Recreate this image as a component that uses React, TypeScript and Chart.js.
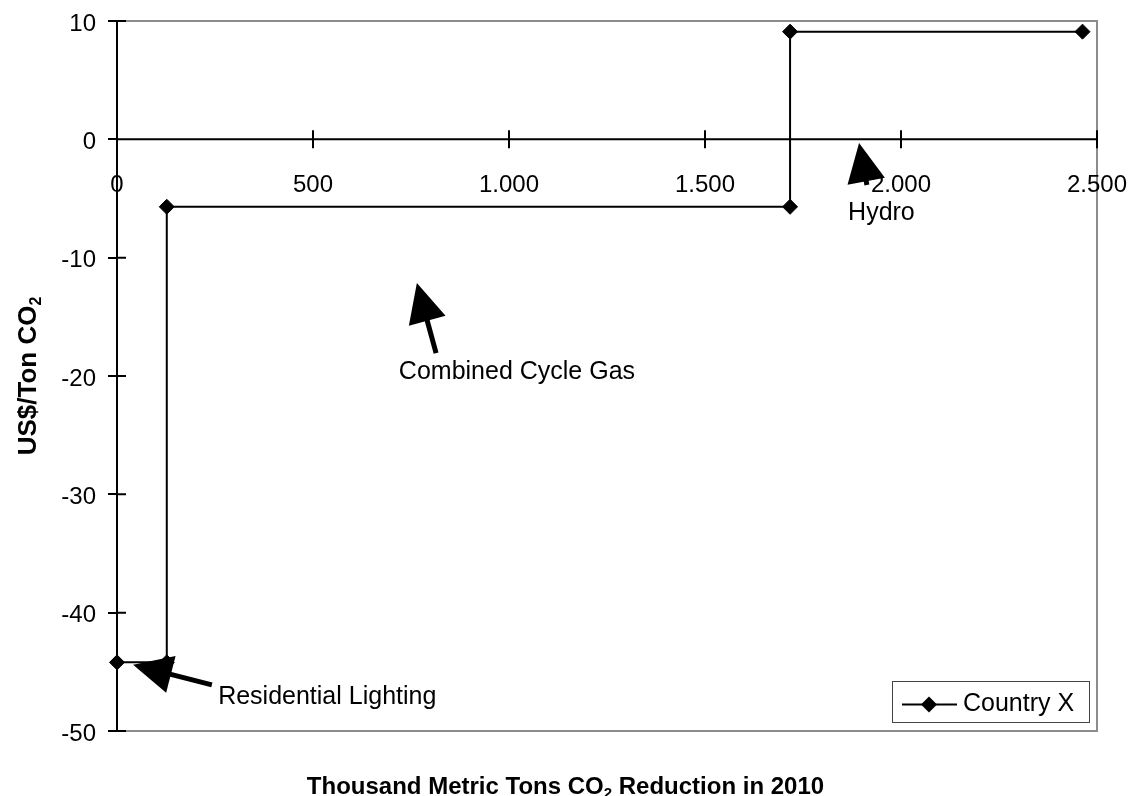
import React, { useEffect, useRef } from 'react';
import { Chart, registerables } from 'chart.js';
Chart.register(...registerables);

const seriesLabel = 'Country X';
const reductionX = [0, 127, 127, 1717, 1717, 2463];
const costY = [-44.2, -44.2, -5.7, -5.7, 9.1, 9.1];
const xTicks = [0, 500, 1000, 1500, 2000, 2500];
const yTicks = [10, 0, -10, -20, -30, -40, -50];

const annotationTexts = ['Residential Lighting', 'Combined Cycle Gas', 'Hydro'];
const annotationTextAt = [[258, -47.15], [719, -19.67], [1865, -6.23]];
const arrowTips = [[41, -44.4], [765, -12.15], [1893, -0.31]];
const arrowTails = [[242, -46.1], [814, -18.06], [1913, -3.86]];

const FONT = '"Liberation Sans", Arial, Helvetica, sans-serif';

const fmt = (n: number) => String(n).replace(/\B(?=(\d{3})+(?!\d))/g, '.');

function drawRich(ctx: CanvasRenderingContext2D, parts: [string, boolean][], cx: number, cy: number, size: number, bold: boolean) {
  const main = `${bold ? 'bold ' : ''}${size}px ${FONT}`;
  const sub = `${bold ? 'bold ' : ''}${Math.round(size * 0.62)}px ${FONT}`;
  let total = 0;
  const widths = parts.map(([t, s]) => {
    ctx.font = s ? sub : main;
    const w = ctx.measureText(t).width;
    total += w;
    return w;
  });
  let x = cx - total / 2;
  ctx.textAlign = 'left';
  ctx.textBaseline = 'alphabetic';
  parts.forEach(([t, s], i) => {
    ctx.font = s ? sub : main;
    ctx.fillText(t, x, s ? cy + size * 0.18 : cy);
    x += widths[i];
  });
}

function drawArrow(ctx: CanvasRenderingContext2D, tx: number, ty: number, sx: number, sy: number) {
  const dx = sx - tx, dy = sy - ty;
  const len = Math.hypot(dx, dy) || 1;
  const ux = dx / len, uy = dy / len;
  const L = 39, W = 19;
  const bx = tx + ux * L, by = ty + uy * L;
  const nx = -uy, ny = ux;
  ctx.beginPath();
  ctx.moveTo(tx, ty);
  ctx.lineTo(bx + nx * W, by + ny * W);
  ctx.lineTo(bx - nx * W, by - ny * W);
  ctx.closePath();
  ctx.fill();
  if (len > L) {
    ctx.beginPath();
    ctx.lineWidth = 5;
    ctx.lineCap = 'butt';
    ctx.moveTo(bx - ux * 2, by - uy * 2);
    ctx.lineTo(sx, sy);
    ctx.stroke();
  }
}

const customPlugin = {
  id: 'customDecor',
  beforeDatasetsDraw(chart: any) {
    const { ctx, chartArea: a, scales } = chart;
    const x = scales.x, y = scales.y;
    ctx.save();
    ctx.strokeStyle = '#8c8c8c';
    ctx.lineWidth = 2;
    ctx.beginPath();
    ctx.moveTo(a.left, a.top);
    ctx.lineTo(a.right, a.top);
    ctx.lineTo(a.right, a.bottom);
    ctx.lineTo(a.left + 9, a.bottom);
    ctx.stroke();

    const y0 = y.getPixelForValue(0);
    ctx.strokeStyle = '#000';
    ctx.beginPath();
    ctx.moveTo(a.left, y0);
    ctx.lineTo(a.right, y0);
    xTicks.forEach((v) => {
      const px = x.getPixelForValue(v);
      ctx.moveTo(px, y0 - 9);
      ctx.lineTo(px, y0 + 9);
    });
    yTicks.forEach((v) => {
      const py = y.getPixelForValue(v);
      ctx.moveTo(a.left, py);
      ctx.lineTo(a.left + 9, py);
    });
    ctx.stroke();
    ctx.restore();
  },
  afterDraw(chart: any) {
    const { ctx, chartArea: a, scales, width } = chart;
    const x = scales.x, y = scales.y;
    ctx.save();
    ctx.fillStyle = '#000';
    ctx.strokeStyle = '#000';
    const y0 = y.getPixelForValue(0);

    // x tick labels
    ctx.font = `24px ${FONT}`;
    ctx.textAlign = 'center';
    ctx.textBaseline = 'middle';
    xTicks.forEach((v) => {
      ctx.fillText(fmt(v), x.getPixelForValue(v), y0 + 46);
    });

    // annotations
    ctx.font = `25px ${FONT}`;
    ctx.textAlign = 'left';
    ctx.textBaseline = 'middle';
    annotationTexts.forEach((t, i) => {
      const [vx, vy] = annotationTextAt[i];
      ctx.fillText(t, x.getPixelForValue(vx), y.getPixelForValue(vy));
    });
    arrowTips.forEach((tip, i) => {
      const tail = arrowTails[i];
      drawArrow(
        ctx,
        x.getPixelForValue(tip[0]),
        y.getPixelForValue(tip[1]),
        x.getPixelForValue(tail[0]),
        y.getPixelForValue(tail[1])
      );
    });

    // legend
    const lw = 197, lh = 41;
    const lx = a.right - 205, ly = a.bottom - 50;
    ctx.fillStyle = '#fff';
    ctx.fillRect(lx, ly, lw, lh);
    ctx.strokeStyle = '#444';
    ctx.lineWidth = 1;
    ctx.strokeRect(lx + 0.5, ly + 0.5, lw, lh);
    const cy = ly + lh / 2 + 3;
    ctx.strokeStyle = '#000';
    ctx.lineWidth = 2;
    ctx.beginPath();
    ctx.moveTo(lx + 10, cy);
    ctx.lineTo(lx + 65, cy);
    ctx.stroke();
    ctx.fillStyle = '#000';
    ctx.beginPath();
    const dx = lx + 37;
    ctx.moveTo(dx - 8, cy);
    ctx.lineTo(dx, cy - 8);
    ctx.lineTo(dx + 8, cy);
    ctx.lineTo(dx, cy + 8);
    ctx.closePath();
    ctx.fill();
    ctx.font = `25px ${FONT}`;
    ctx.textAlign = 'left';
    ctx.textBaseline = 'middle';
    ctx.fillText(seriesLabel, lx + 71, cy);

    // axis titles
    drawRich(ctx, [['Thousand Metric Tons CO', false], ['2', true], [' Reduction in 2010', false]], width / 2, 794, 24, true);
    ctx.save();
    ctx.translate(36, (a.top + a.bottom) / 2);
    ctx.rotate(-Math.PI / 2);
    drawRich(ctx, [['US$/Ton CO', false], ['2', true]], 0, 0, 26, true);
    ctx.restore();
    ctx.restore();
  },
};

export default function App() {
  const ref = useRef<HTMLCanvasElement>(null);
  useEffect(() => {
    if (!ref.current) return;
    const chart = new Chart(ref.current, {
      type: 'line',
      data: {
        datasets: [
          {
            label: seriesLabel,
            data: reductionX.map((v, i) => ({ x: v, y: costY[i] })),
            borderColor: '#000',
            backgroundColor: '#000',
            borderWidth: 2,
            pointStyle: 'rectRot',
            pointRadius: 7.5,
            pointBorderWidth: 1,
            pointBackgroundColor: '#000',
            pointBorderColor: '#000',
            tension: 0,
            clip: false as any,
          },
        ],
      },
      options: {
        responsive: false,
        animation: false,
        devicePixelRatio: 1,
        layout: { padding: { left: 0, top: 21, right: 34, bottom: 65 } },
        plugins: { legend: { display: false }, tooltip: { enabled: false } },
        scales: {
          x: { type: 'linear', min: 0, max: 2500, display: false },
          y: {
            type: 'linear',
            min: -50,
            max: 10,
            afterFit: (s: any) => {
              s.width = 117;
              s.paddingTop = 0;
              s.paddingBottom = 0;
            },
            afterBuildTicks: (s: any) => {
              s.ticks = yTicks.map((v) => ({ value: v }));
            },
            ticks: {
              color: '#000',
              padding: 12,
              labelOffset: 3,
              font: { family: FONT, size: 24 },
            },
            grid: {
              drawOnChartArea: false,
              drawTicks: true,
              tickLength: 9,
              color: '#000',
              lineWidth: 2,
            },
            border: { display: true, color: '#000', width: 2 },
          },
        },
      },
      plugins: [customPlugin],
    });
    return () => chart.destroy();
  }, []);
  return (
    <div style={{ position: 'fixed', left: 0, top: 0, width: 1131, height: 796, background: '#fff' }}>
      <canvas ref={ref} width={1131} height={796} style={{ width: 1131, height: 796 }} />
    </div>
  );
}
